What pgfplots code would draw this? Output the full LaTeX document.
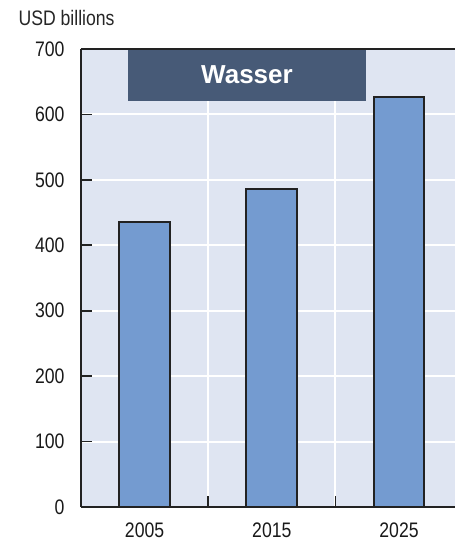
\documentclass[border=0pt]{standalone}
\usepackage{fontspec}
\setmainfont{Liberation Sans}[FakeStretch=0.84]
\newfontfamily\titlefont{Liberation Sans}
\usepackage{pgfplots}
\pgfplotsset{compat=1.18}

\definecolor{bgblue}{HTML}{DFE5F2}
\definecolor{barblue}{HTML}{749BD0}
\definecolor{boxslate}{HTML}{475A77}
\definecolor{axisgray}{HTML}{222222}

\begin{document}
\begin{tikzpicture}
\begin{axis}[
    scale only axis,
    width=374pt, height=458pt,
    xmin=-0.5, xmax=2.44,
    ymin=0, ymax=700,
    axis lines*=left,
    axis line style={line width=2.5pt, draw=axisgray},
    axis background/.style={fill=bgblue},
    ytick={0,100,...,700},
    xtick={0.5,1.5},
    xticklabels={},
    extra x ticks={0,1,2},
    extra x tick labels={2005,2015,2025},
    extra x tick style={grid=none, major tick length=0pt},
    tick style={line width=1.8pt, draw=axisgray},
    tick align=inside,
    major tick length=11pt,
    grid=major,
    grid style={white, line width=2pt},
    ticklabel style={font=\fontsize{21}{24}\selectfont, text=black!90},
    /pgf/number format/assume math mode=true,
    yticklabel style={xshift=-13pt},
    xticklabel style={yshift=-12pt},
    clip=false,
]
\addplot[ybar, bar width=0.4, fill=barblue, draw=axisgray, line width=2pt]
    coordinates {(0,436) (1,486) (2,627)};
\fill[boxslate] (axis cs:-0.13,700) rectangle (axis cs:1.74,620.5);
\node[text=white, font=\titlefont\bfseries\fontsize{26}{30}\selectfont]
    at (axis cs:0.805,660) {Wasser};
\draw[line width=2.5pt, draw=axisgray] (rel axis cs:0,1) -- (rel axis cs:1,1);
\end{axis}
\node[anchor=base west, font=\fontsize{21}{24}\selectfont, text=black!85]
    at ([shift={(-66pt,23pt)}]current axis.north west) {USD billions};
\path ([shift={(-81pt,-36pt)}]current axis.south west)
    rectangle ([shift={(0pt,49pt)}]current axis.north east);
\end{tikzpicture}
\end{document}
